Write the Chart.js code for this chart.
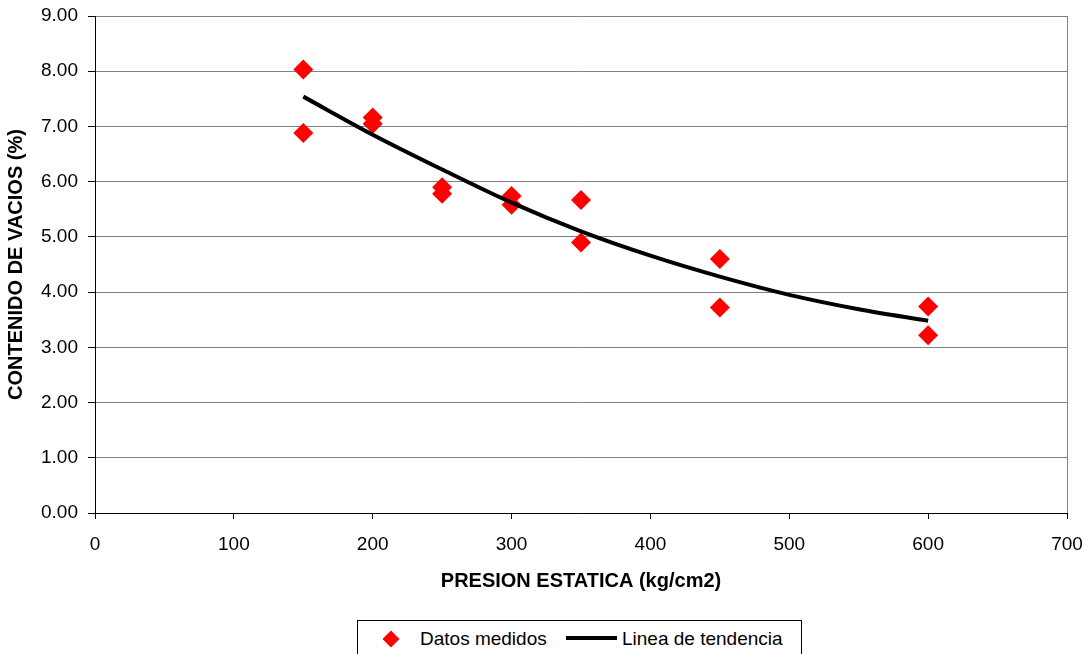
<!DOCTYPE html>
<html>
<head>
<meta charset="utf-8">
<script src="https://cdn.jsdelivr.net/npm/chart.js@4.4.1/dist/chart.umd.min.js"></script>
<style>
  html, body { margin: 0; padding: 0; background: #fff; }
  #wrap { position: relative; width: 1083px; height: 654px; overflow: hidden; }
  #legend {
    position: absolute; left: 357px; top: 620px; width: 445px; height: 44px;
    border: 1px solid #000; box-sizing: border-box; background: #fff;
    font-family: 'Liberation Sans', Arial, sans-serif; font-size: 19px; color: #000;
  }
  #legend .diamond {
    position: absolute; left: 27px; top: 12px; width: 12px; height: 12px; background: #f00;
    transform: rotate(45deg);
  }
  #legend span { position: absolute; top: 7px; line-height: 22px; white-space: nowrap; }
  #legend .line { position: absolute; left: 208px; top: 15px; width: 51px; height: 4px; background: #000; }
</style>
</head>
<body>
<div id="wrap">
  <canvas id="vacios" width="1083" height="654"></canvas>
  <div id="legend">
    <div class="diamond"></div>
    <span style="left:62px;">Datos medidos</span>
    <div class="line"></div>
    <span style="left:264px;">Linea de tendencia</span>
  </div>
</div>
<script>
const presion = [150, 150, 200, 200, 250, 250, 300, 300, 350, 350, 450, 450, 600, 600];
const vacios = [8.03, 6.88, 7.16, 7.05, 5.90, 5.78, 5.74, 5.58, 5.67, 4.90, 4.60, 3.72, 3.74, 3.22];

const tendenciaX = [150, 200, 250, 300, 350, 400, 450, 500, 550, 600];
const tendenciaY = [7.54, 6.85, 6.22, 5.62, 5.10, 4.66, 4.28, 3.95, 3.69, 3.48];

const font = { family: "'Liberation Sans', Arial, sans-serif", size: 19 };
const boldFont = { family: "'Liberation Sans', Arial, sans-serif", size: 20, weight: 'bold' };

// gray right edge of the plot area
const rightBorder = {
  id: 'rightBorder',
  beforeDatasetsDraw(chart) {
    const { ctx, chartArea } = chart;
    ctx.save();
    ctx.strokeStyle = '#808080';
    ctx.lineWidth = 1;
    ctx.beginPath();
    ctx.moveTo(Math.round(chartArea.right) + 0.5, chartArea.top);
    ctx.lineTo(Math.round(chartArea.right) + 0.5, chartArea.bottom);
    ctx.stroke();
    ctx.restore();
  }
};

new Chart(document.querySelector('#vacios'), {
  type: 'scatter',
  data: {
    datasets: [
      {
        label: 'Linea de tendencia',
        type: 'line',
        data: tendenciaX.map((x, i) => ({ x: x, y: tendenciaY[i] })),
        borderColor: '#000',
        borderWidth: 4,
        pointRadius: 0,
        cubicInterpolationMode: 'monotone',
        fill: false
      },
      {
        label: 'Datos medidos',
        data: presion.map((x, i) => ({ x: x, y: vacios[i] })),
        backgroundColor: '#ff0000',
        borderColor: '#ff0000',
        borderWidth: 0,
        pointStyle: 'rectRot',
        pointRadius: 10
      }
    ]
  },
  options: {
    responsive: false,
    animation: false,
    layout: { padding: { top: 16, right: 16, bottom: 0, left: 0 } },
    plugins: { legend: { display: false }, tooltip: { enabled: false } },
    scales: {
      x: {
        type: 'linear',
        min: 0,
        max: 700,
        afterFit: s => { s.height = 141; s.paddingLeft = 0; s.paddingRight = 0; },
        ticks: { stepSize: 100, color: '#000', font: font, padding: 14 },
        grid: { drawOnChartArea: false, drawTicks: true, tickLength: 6, tickColor: '#000' },
        border: { color: '#000', width: 1 },
        title: { display: true, text: 'PRESION ESTATICA (kg/cm2)', color: '#000', font: boldFont, padding: { bottom: 61 } }
      },
      y: {
        min: 0,
        max: 9,
        afterFit: s => { s.width = 95; s.paddingTop = 0; s.paddingBottom = 0; },
        ticks: { stepSize: 1, color: '#000', font: font, padding: 10, callback: v => v.toFixed(2) },
        grid: { color: '#808080', tickLength: 7, tickColor: '#000' },
        border: { color: '#000', width: 1 },
        title: { display: true, text: 'CONTENIDO DE VACIOS (%)', color: '#000', font: boldFont, padding: { top: 4 } }
      }
    }
  },
  plugins: [rightBorder]
});
</script>
</body>
</html>
